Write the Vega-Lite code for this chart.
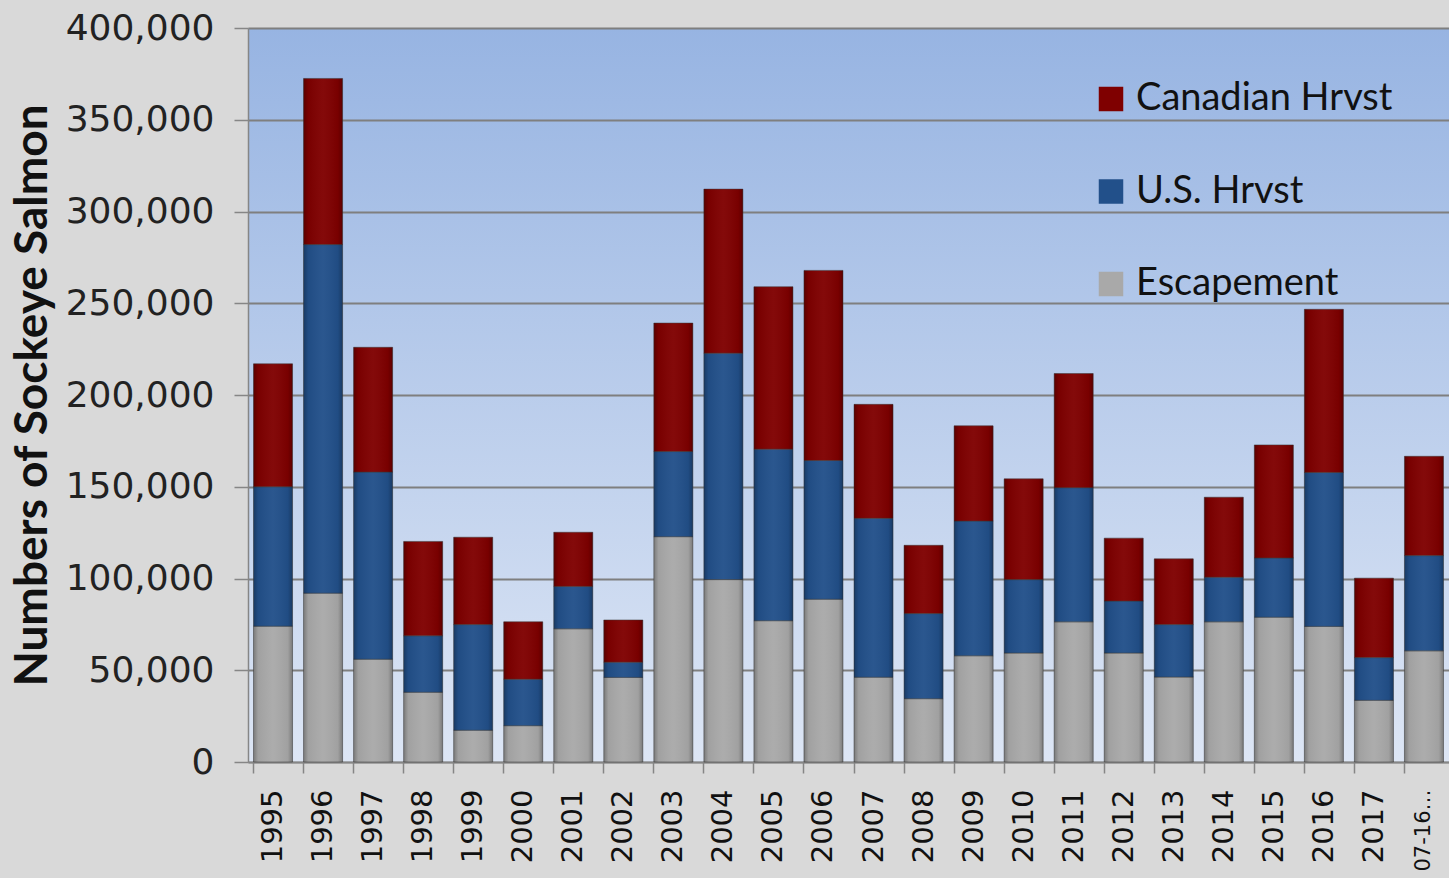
{
  "$schema": "https://vega.github.io/schema/vega-lite/v6.json",
  "autosize": {"type": "none"},
  "padding": {"left": 248, "top": 28, "right": 0, "bottom": 116},
  "width": 1201,
  "height": 734,
  "background": "#d9d9d9",
  "config": {
    "view": {
      "stroke": null,
      "fill": {"gradient": "linear", "x1": 0, "y1": 0, "x2": 0, "y2": 1,
        "stops": [{"offset": 0, "color": "#97b4e2"}, {"offset": 1, "color": "#dde6f5"}]}
    }
  },
  "data": {
    "values": [
      {"year": "1995", "series": "Escapement", "ord": 1, "value": 74000},
      {"year": "1995", "series": "U.S. Hrvst", "ord": 2, "value": 76000},
      {"year": "1995", "series": "Canadian Hrvst", "ord": 3, "value": 67000},
      {"year": "1996", "series": "Escapement", "ord": 1, "value": 92000},
      {"year": "1996", "series": "U.S. Hrvst", "ord": 2, "value": 190000},
      {"year": "1996", "series": "Canadian Hrvst", "ord": 3, "value": 90500},
      {"year": "1997", "series": "Escapement", "ord": 1, "value": 56000},
      {"year": "1997", "series": "U.S. Hrvst", "ord": 2, "value": 102000},
      {"year": "1997", "series": "Canadian Hrvst", "ord": 3, "value": 68000},
      {"year": "1998", "series": "Escapement", "ord": 1, "value": 38000},
      {"year": "1998", "series": "U.S. Hrvst", "ord": 2, "value": 30800},
      {"year": "1998", "series": "Canadian Hrvst", "ord": 3, "value": 51400},
      {"year": "1999", "series": "Escapement", "ord": 1, "value": 17300},
      {"year": "1999", "series": "U.S. Hrvst", "ord": 2, "value": 57600},
      {"year": "1999", "series": "Canadian Hrvst", "ord": 3, "value": 47600},
      {"year": "2000", "series": "Escapement", "ord": 1, "value": 19800},
      {"year": "2000", "series": "U.S. Hrvst", "ord": 2, "value": 25300},
      {"year": "2000", "series": "Canadian Hrvst", "ord": 3, "value": 31300},
      {"year": "2001", "series": "Escapement", "ord": 1, "value": 72600},
      {"year": "2001", "series": "U.S. Hrvst", "ord": 2, "value": 23100},
      {"year": "2001", "series": "Canadian Hrvst", "ord": 3, "value": 29500},
      {"year": "2002", "series": "Escapement", "ord": 1, "value": 46100},
      {"year": "2002", "series": "U.S. Hrvst", "ord": 2, "value": 8300},
      {"year": "2002", "series": "Canadian Hrvst", "ord": 3, "value": 23000},
      {"year": "2003", "series": "Escapement", "ord": 1, "value": 122800},
      {"year": "2003", "series": "U.S. Hrvst", "ord": 2, "value": 46400},
      {"year": "2003", "series": "Canadian Hrvst", "ord": 3, "value": 70000},
      {"year": "2004", "series": "Escapement", "ord": 1, "value": 99400},
      {"year": "2004", "series": "U.S. Hrvst", "ord": 2, "value": 123400},
      {"year": "2004", "series": "Canadian Hrvst", "ord": 3, "value": 89400},
      {"year": "2005", "series": "Escapement", "ord": 1, "value": 77000},
      {"year": "2005", "series": "U.S. Hrvst", "ord": 2, "value": 93500},
      {"year": "2005", "series": "Canadian Hrvst", "ord": 3, "value": 88500},
      {"year": "2006", "series": "Escapement", "ord": 1, "value": 88700},
      {"year": "2006", "series": "U.S. Hrvst", "ord": 2, "value": 75600},
      {"year": "2006", "series": "Canadian Hrvst", "ord": 3, "value": 103600},
      {"year": "2007", "series": "Escapement", "ord": 1, "value": 46200},
      {"year": "2007", "series": "U.S. Hrvst", "ord": 2, "value": 86600},
      {"year": "2007", "series": "Canadian Hrvst", "ord": 3, "value": 62100},
      {"year": "2008", "series": "Escapement", "ord": 1, "value": 34500},
      {"year": "2008", "series": "U.S. Hrvst", "ord": 2, "value": 46400},
      {"year": "2008", "series": "Canadian Hrvst", "ord": 3, "value": 37200},
      {"year": "2009", "series": "Escapement", "ord": 1, "value": 57900},
      {"year": "2009", "series": "U.S. Hrvst", "ord": 2, "value": 73400},
      {"year": "2009", "series": "Canadian Hrvst", "ord": 3, "value": 51900},
      {"year": "2010", "series": "Escapement", "ord": 1, "value": 59400},
      {"year": "2010", "series": "U.S. Hrvst", "ord": 2, "value": 40000},
      {"year": "2010", "series": "Canadian Hrvst", "ord": 3, "value": 54900},
      {"year": "2011", "series": "Escapement", "ord": 1, "value": 76400},
      {"year": "2011", "series": "U.S. Hrvst", "ord": 2, "value": 73100},
      {"year": "2011", "series": "Canadian Hrvst", "ord": 3, "value": 62200},
      {"year": "2012", "series": "Escapement", "ord": 1, "value": 59400},
      {"year": "2012", "series": "U.S. Hrvst", "ord": 2, "value": 28300},
      {"year": "2012", "series": "Canadian Hrvst", "ord": 3, "value": 34300},
      {"year": "2013", "series": "Escapement", "ord": 1, "value": 46300},
      {"year": "2013", "series": "U.S. Hrvst", "ord": 2, "value": 28600},
      {"year": "2013", "series": "Canadian Hrvst", "ord": 3, "value": 35800},
      {"year": "2014", "series": "Escapement", "ord": 1, "value": 76400},
      {"year": "2014", "series": "U.S. Hrvst", "ord": 2, "value": 24300},
      {"year": "2014", "series": "Canadian Hrvst", "ord": 3, "value": 43600},
      {"year": "2015", "series": "Escapement", "ord": 1, "value": 78900},
      {"year": "2015", "series": "U.S. Hrvst", "ord": 2, "value": 32300},
      {"year": "2015", "series": "Canadian Hrvst", "ord": 3, "value": 61600},
      {"year": "2016", "series": "Escapement", "ord": 1, "value": 73900},
      {"year": "2016", "series": "U.S. Hrvst", "ord": 2, "value": 83900},
      {"year": "2016", "series": "Canadian Hrvst", "ord": 3, "value": 88900},
      {"year": "2017", "series": "Escapement", "ord": 1, "value": 33600},
      {"year": "2017", "series": "U.S. Hrvst", "ord": 2, "value": 23300},
      {"year": "2017", "series": "Canadian Hrvst", "ord": 3, "value": 43300},
      {"year": "07-16…", "series": "Escapement", "ord": 1, "value": 60600},
      {"year": "07-16…", "series": "U.S. Hrvst", "ord": 2, "value": 51900},
      {"year": "07-16…", "series": "Canadian Hrvst", "ord": 3, "value": 54100}
    ]
  },
  "encoding": {
    "x": {
      "field": "year", "type": "nominal", "sort": null,
      "scale": {"paddingInner": 0.22, "paddingOuter": 0.11},
      "axis": {
        "title": null, "labelAngle": -90, "labelFont": "DejaVu Sans",
        "labelFontSize": {"condition": {"test": "datum.value == '07-16…'", "value": 21}, "value": 29},
        "labelColor": "#111111", "labelPadding": 16, "tickSize": 11, "tickColor": "#868686",
        "tickWidth": 1.5, "bandPosition": 0, "domainColor": "#868686", "domainWidth": 1.5,
        "labelOverlap": false
      }
    },
    "y": {
      "field": "value", "type": "quantitative", "stack": "zero",
      "scale": {"domain": [0, 400000], "nice": false},
      "axis": {
        "title": "Numbers of  Sockeye Salmon", "titleFont": "Lato", "titleFontWeight": "bold",
        "titleFontSize": 46, "titleColor": "#111111", "titleX": -202, "titleBaseline": "alphabetic",
        "values": [0, 50000, 100000, 150000, 200000, 250000, 300000, 350000, 400000],
        "format": ",d", "labelFont": "DejaVu Sans", "labelFontSize": 36, "labelColor": "#222222",
        "labelPadding": 20, "tickSize": 14, "tickColor": "#868686", "tickWidth": 1.5,
        "domainColor": "#868686", "domainWidth": 1.5,
        "grid": true, "gridColor": "#7f7f7f", "gridWidth": 1.8
      }
    },
    "order": {"field": "ord", "type": "quantitative"}
  },
  "layer": [
    {
      "mark": {"type": "bar", "stroke": "#3a3a3a", "strokeWidth": 1, "strokeOpacity": 0.5},
      "encoding": {
        "color": {
          "field": "series", "type": "nominal",
          "scale": {"domain": ["Canadian Hrvst", "U.S. Hrvst", "Escapement"], "range": ["#7f0000", "#22508a", "#a9a9a9"]},
          "legend": {
            "title": null, "orient": "none", "legendX": 844, "legendY": 52,
            "symbolType": "square", "symbolSize": 600, "symbolStrokeWidth": 0,
            "labelFont": "Lato", "labelFontSize": 38, "labelColor": "#111111", "labelOffset": 6,
            "rowPadding": 54.5, "labelLimit": 400
          }
        }
      }
    },
    {
      "mark": {
        "type": "bar", "strokeWidth": 0,
        "fill": {"gradient": "linear", "x1": 0, "y1": 0, "x2": 1, "y2": 0,
          "stops": [
            {"offset": 0, "color": "rgba(0,0,0,0.28)"},
            {"offset": 0.12, "color": "rgba(0,0,0,0.05)"},
            {"offset": 0.5, "color": "rgba(255,255,255,0.04)"},
            {"offset": 0.88, "color": "rgba(0,0,0,0.05)"},
            {"offset": 1, "color": "rgba(0,0,0,0.28)"}
          ]}
      },
      "encoding": {"detail": {"field": "series", "type": "nominal"}}
    }
  ]
}
